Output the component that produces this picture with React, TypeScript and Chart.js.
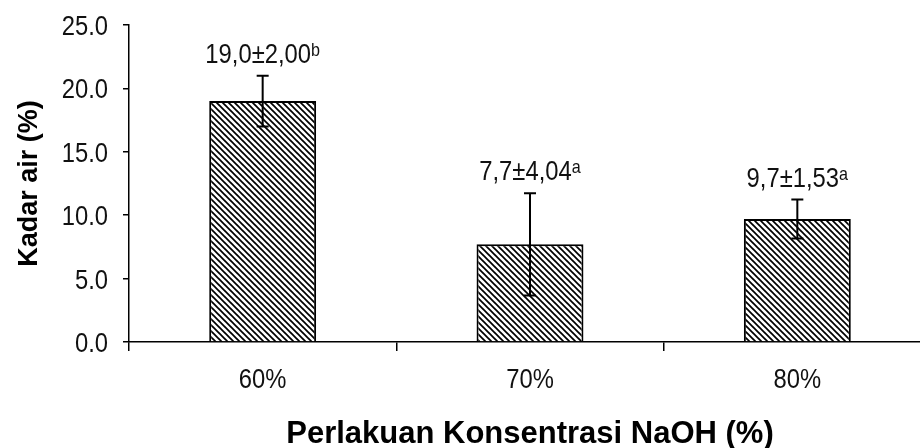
import React, { useEffect, useRef } from "react";
import { Chart, registerables } from "chart.js";

Chart.register(...registerables);

const categories = ["60%", "70%", "80%"];
const means = [19.0, 7.7, 9.7];
const sds = [2.0, 4.04, 1.53];
const letters = ["b", "a", "a"];
const yTicks = [0, 5, 10, 15, 20, 25];
const xTitle = "Perlakuan Konsentrasi NaOH (%)";
const yTitle = "Kadar air (%)";

const FONT = "'Liberation Sans', Arial, sans-serif";
const NARROW = 0.85;

function makePattern(): CanvasPattern | string {
  const s = 6;
  const c = document.createElement("canvas");
  c.width = s;
  c.height = s;
  const g = c.getContext("2d");
  if (!g) return "#888";
  g.fillStyle = "#ffffff";
  g.fillRect(0, 0, s, s);
  g.strokeStyle = "#000000";
  g.lineWidth = 1.7;
  for (let k = -1; k <= 1; k++) {
    g.beginPath();
    g.moveTo(k * s - 1, -1);
    g.lineTo(k * s + s + 1, s + 1);
    g.stroke();
  }
  const p = g.createPattern(c, "repeat");
  return p || "#888";
}

const fmt = (v: number, d: number) => v.toFixed(d).replace(".", ",");

function narrowWidth(ctx: CanvasRenderingContext2D, text: string, size: number) {
  ctx.font = `${size}px ${FONT}`;
  return ctx.measureText(text).width * NARROW;
}

function drawNarrow(
  ctx: CanvasRenderingContext2D,
  text: string,
  x: number,
  y: number,
  size: number,
  align: CanvasTextAlign
) {
  ctx.save();
  ctx.translate(x, y);
  ctx.scale(NARROW, 1);
  ctx.font = `${size}px ${FONT}`;
  ctx.textAlign = align;
  ctx.textBaseline = "alphabetic";
  ctx.fillStyle = "#111";
  ctx.fillText(text, 0, 0);
  ctx.restore();
}

const textPlugin = {
  id: "textAndErrors",
  afterDatasetsDraw(chart: any) {
    const ctx = chart.ctx as CanvasRenderingContext2D;
    const meta = chart.getDatasetMeta(0);
    const ys = chart.scales.y;
    const xs = chart.scales.x;
    ctx.save();
    // error bars and value labels
    meta.data.forEach((bar: any, i: number) => {
      const x = bar.x;
      const top = ys.getPixelForValue(means[i] + sds[i]);
      const bot = ys.getPixelForValue(means[i] - sds[i]);
      ctx.strokeStyle = "#000";
      ctx.lineWidth = 2;
      ctx.beginPath();
      ctx.moveTo(x, top);
      ctx.lineTo(x, bot);
      ctx.moveTo(x - 6, top);
      ctx.lineTo(x + 6, top);
      ctx.moveTo(x - 6, bot);
      ctx.lineTo(x + 6, bot);
      ctx.stroke();

      const main = fmt(means[i], 1) + "\u00b1" + fmt(sds[i], 2);
      const sup = letters[i];
      const w1 = narrowWidth(ctx, main, 28);
      const w2 = narrowWidth(ctx, sup, 19);
      const start = x - (w1 + w2) / 2;
      const base = top - 13;
      drawNarrow(ctx, main, start, base, 28, "left");
      drawNarrow(ctx, sup, start + w1, base - 7, 19, "left");
    });
    // y tick labels
    ys.ticks.forEach((t: any) => {
      const py = ys.getPixelForValue(t.value);
      drawNarrow(ctx, Number(t.value).toFixed(1), ys.right - 21, py + 10, 28, "right");
    });
    // x tick labels
    categories.forEach((c, i) => {
      const px = xs.getPixelForTick(i);
      drawNarrow(ctx, c, px, xs.top + 46, 28, "center");
    });
    // axis titles
    ctx.fillStyle = "#000";
    ctx.font = `bold 31px ${FONT}`;
    ctx.textAlign = "center";
    ctx.textBaseline = "alphabetic";
    const area = chart.chartArea;
    ctx.fillText(xTitle, (area.left + area.right) / 2, 443);
    ctx.save();
    ctx.translate(37, (area.top + area.bottom) / 2);
    ctx.rotate(-Math.PI / 2);
    ctx.font = `bold 27px ${FONT}`;
    ctx.fillText(yTitle, 0, 0);
    ctx.restore();
    ctx.restore();
  },
};

export default function App() {
  const ref = useRef<HTMLCanvasElement | null>(null);
  useEffect(() => {
    if (!ref.current) return;
    const chart = new Chart(ref.current, {
      type: "bar",
      data: {
        labels: categories,
        datasets: [
          {
            data: means,
            backgroundColor: makePattern() as any,
            borderColor: "#000",
            borderWidth: 2,
            borderSkipped: "start",
            barPercentage: 0.4,
            categoryPercentage: 1,
          },
        ],
      },
      options: {
        responsive: false,
        animation: false,
        devicePixelRatio: 1,
        layout: { padding: { top: 25, left: 0, right: 0, bottom: 0 } },
        plugins: {
          legend: { display: false },
          tooltip: { enabled: false },
        },
        scales: {
          x: {
            offset: true,
            grid: {
              display: true,
              offset: true,
              drawOnChartArea: false,
              drawTicks: true,
              tickLength: 9,
              color: "#000",
              lineWidth: 1.5,
            },
            border: { display: true, color: "#000", width: 1.5 },
            ticks: { display: false },
            afterFit: (s: any) => {
              s.height = 106;
            },
          },
          y: {
            min: 0,
            max: 25,
            afterBuildTicks: (s: any) => {
              s.ticks = yTicks.map((v) => ({ value: v }));
            },
            grid: {
              display: true,
              drawOnChartArea: false,
              drawTicks: true,
              tickLength: 6,
              color: "#000",
              lineWidth: 1.5,
            },
            border: { display: true, color: "#000", width: 1.5 },
            ticks: { display: false },
            afterFit: (s: any) => {
              s.width = 129;
            },
          },
        },
      },
      plugins: [textPlugin],
    });
    return () => chart.destroy();
  }, []);
  return (
    <div
      style={{
        position: "fixed",
        left: 0,
        top: 0,
        width: 920,
        height: 448,
        overflow: "hidden",
        background: "#fff",
      }}
    >
      <canvas ref={ref} width={931} height={448} style={{ display: "block" }} />
    </div>
  );
}
